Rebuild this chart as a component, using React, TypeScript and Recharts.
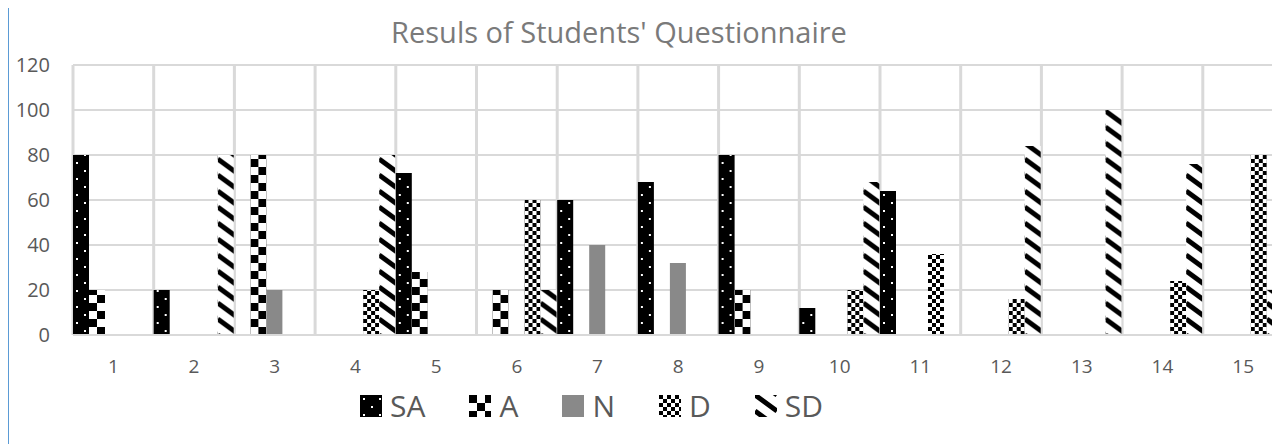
import React from 'react'
import { BarChart, Bar, XAxis, YAxis, CartesianGrid } from 'recharts'

const categories = ['1', '2', '3', '4', '5', '6', '7', '8', '9', '10', '11', '12', '13', '14', '15']
const saValues = [80, 20, 0, 0, 72, 0, 60, 68, 80, 12, 64, 0, 0, 0, 0]
const aValues = [20, 0, 80, 0, 28, 20, 0, 0, 20, 0, 0, 0, 0, 0, 0]
const nValues = [0, 0, 20, 0, 0, 0, 40, 32, 0, 0, 0, 0, 0, 0, 0]
const dValues = [0, 0, 0, 20, 0, 60, 0, 0, 0, 20, 36, 16, 0, 24, 80]
const sdValues = [0, 80, 0, 80, 0, 20, 0, 0, 0, 68, 0, 84, 100, 76, 20]
const yTicks = [0, 20, 40, 60, 80, 100, 120]

const series = [
    { key: 'SA', fill: 'url(#pSA)' },
    { key: 'A', fill: 'url(#pA)' },
    { key: 'N', fill: '#898989' },
    { key: 'D', fill: 'url(#pD)' },
    { key: 'SD', fill: 'url(#pSD)' },
]

const data = categories.map((name, i) => ({
    name,
    SA: saValues[i],
    A: aValues[i],
    N: nValues[i],
    D: dValues[i],
    SD: sdValues[i],
}))

const FONT = '"Open Sans", sans-serif'

function Patterns() {
    return (
        <defs>
            <pattern id="pSA" width="16" height="16" patternUnits="userSpaceOnUse">
                <rect width="16" height="16" fill="#000" />
                <rect x="3" y="3" width="2" height="2" fill="#fff" />
                <rect x="11" y="11" width="2" height="2" fill="#fff" />
            </pattern>
            <pattern id="pA" width="16" height="16" patternUnits="userSpaceOnUse">
                <rect width="16" height="16" fill="#fff" />
                <rect x="0" y="0" width="8" height="8" fill="#000" />
                <rect x="8" y="8" width="8" height="8" fill="#000" />
            </pattern>
            <pattern id="pD" width="8" height="8" patternUnits="userSpaceOnUse">
                <rect width="8" height="8" fill="#fff" />
                <rect x="0" y="0" width="4" height="4" fill="#000" />
                <rect x="4" y="4" width="4" height="4" fill="#000" />
            </pattern>
            <pattern id="pSD" width="22" height="16" patternUnits="userSpaceOnUse">
                <rect width="22" height="16" fill="#fff" />
                <path d="M0,0 L22,16 M0,-16 L22,0 M0,16 L22,32" stroke="#000" strokeWidth="5" />
            </pattern>
        </defs>
    )
}

// draws the bar in its own translated space so the fill pattern starts at the bar's corner
const PatternBar = (props: any) => {
    const { x, y, width, height, fill } = props
    if (!height || height <= 0) return null
    return (
        <g transform={`translate(${x},${y + height})`}>
            <rect x={0} y={-height} width={width} height={height} fill={fill} />
        </g>
    )
}

export default function App() {
    return (
        <div
            style={{
                position: 'relative',
                width: 1271,
                height: 440,
                marginTop: -1,
                borderLeft: '1px solid #5b9bd5',
                borderTop: '1px solid #5b9bd5',
                overflow: 'hidden',
                background: '#fff',
                fontFamily: FONT,
            }}
        >
            <div
                style={{
                    position: 'absolute',
                    left: 610,
                    top: 4,
                    transform: 'translateX(-50%)',
                    whiteSpace: 'nowrap',
                    fontSize: 29,
                    color: '#7a7a7a',
                    lineHeight: 'normal',
                }}
            >
                Resuls of Students' Questionnaire
            </div>

            <BarChart
                width={1300}
                height={430}
                data={data}
                barGap={0}
                barCategoryGap={0}
                margin={{ top: 57, right: 25.5, left: 0, bottom: 63 }}
            >
                <Patterns />
                <CartesianGrid vertical={false} stroke="#d9d9d9" strokeWidth={2} />
                <CartesianGrid
                    horizontal={false}
                    stroke="#d9d9d9"
                    strokeWidth={3}
                    verticalCoordinatesGenerator={({ offset }: any) => {
                        const left = offset ? offset.left : 64
                        const w = offset ? offset.width : 1210.5
                        return [...categories, ''].map((_, i) => left + (i * w) / categories.length)
                    }}
                />
                <XAxis
                    dataKey="name"
                    height={40}
                    axisLine={{ stroke: '#d9d9d9', strokeWidth: 2 }}
                    tickLine={false}
                    tickSize={0}
                    tickMargin={25}
                    interval={0}
                    tick={{ fill: '#595959', fontSize: 19, fontFamily: FONT }}
                />
                <YAxis
                    width={64}
                    domain={[0, 120]}
                    ticks={yTicks}
                    axisLine={false}
                    tickLine={false}
                    tickSize={0}
                    tickMargin={23}
                    tick={{ fill: '#595959', fontSize: 20, fontFamily: FONT }}
                />
                {series.map((s) => (
                    <Bar
                        key={s.key}
                        dataKey={s.key}
                        fill={s.fill}
                        shape={<PatternBar />}
                        isAnimationActive={false}
                    />
                ))}
            </BarChart>

            <div
                style={{
                    position: 'absolute',
                    left: 351,
                    top: 377,
                    display: 'flex',
                    alignItems: 'center',
                    fontSize: 30,
                    color: '#595959',
                    lineHeight: 'normal',
                }}
            >
                {series.map((s) => (
                    <div key={s.key} style={{ display: 'flex', alignItems: 'center', marginRight: 44 }}>
                        <svg width={22} height={22} style={{ marginRight: 8 }}>
                            <rect width={22} height={22} fill={s.fill} />
                        </svg>
                        <span>{s.key}</span>
                    </div>
                ))}
            </div>
        </div>
    )
}
